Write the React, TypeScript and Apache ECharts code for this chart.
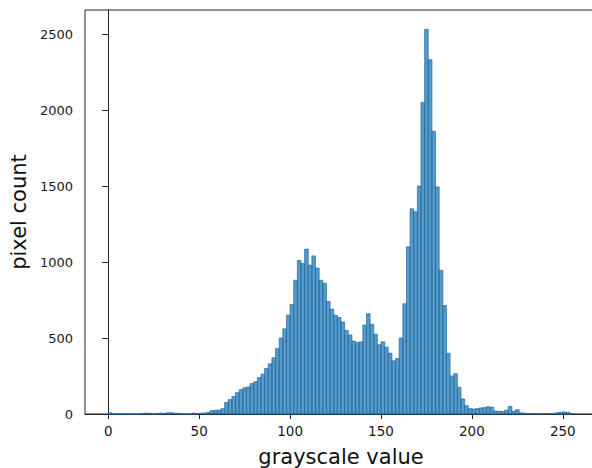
import React, { useEffect, useRef } from "react";
import * as echarts from "echarts";

const BIN_WIDTH = 2;
const binCounts: number[] = [
  8, 0, 0, 0, 0, 0, 0, 0, 0, 4,
  6, 4, 0, 3, 6, 5, 8, 8, 5, 3,
  0, 0, 0, 6, 3, 5, 6, 10, 22, 24,
  26, 35, 75, 95, 115, 140, 160, 172, 178, 200,
  212, 240, 262, 300, 330, 370, 430, 500, 560, 650,
  720, 880, 1010, 990, 1085, 980, 1040, 960, 880, 860,
  740, 690, 650, 635, 605, 550, 520, 480, 470, 475,
  585, 660, 590, 525, 455, 475, 440, 400, 350, 365,
  500, 725, 1100, 1350, 1330, 1500, 2050, 2531, 2330, 1860,
  1494, 945, 714, 400, 250, 265, 175, 99, 55, 35,
  33, 35, 40, 42, 48, 45, 20, 18, 17, 25,
  50, 18, 28, 8, 5, 4, 3, 3, 2, 2,
  3, 3, 4, 8, 12, 13, 10, 3,
];
const xTicks = [0, 50, 100, 150, 200, 250];
const yTicks = [0, 500, 1000, 1500, 2000, 2500];
const X_MIN = -12.8;
const X_MAX = 268.8;
const Y_MAX = 2658;

export default function App() {
  const ref = useRef<HTMLDivElement>(null);
  useEffect(() => {
    document.body.style.margin = "0";
    if (!ref.current) return;
    const chart = echarts.init(ref.current, null, { renderer: "svg" });
    const data = binCounts.map((c, i) => [i * BIN_WIDTH, (i + 1) * BIN_WIDTH, c]);
    const font = "DejaVu Sans";
    chart.setOption({
      animation: false,
      backgroundColor: "#ffffff",
      grid: {
        left: 85,
        top: 10,
        width: 512,
        height: 404,
        outerBoundsMode: "none",
        containLabel: false,
        show: true,
        borderColor: "#222",
        borderWidth: 1,
        backgroundColor: "transparent",
      },
      xAxis: {
        type: "value",
        min: X_MIN,
        max: X_MAX,
        name: "grayscale value",
        nameLocation: "middle",
        nameGap: 32,
        nameTextStyle: { fontFamily: font, fontSize: 21, color: "#111" },
        axisLine: { show: true, onZero: false, lineStyle: { color: "#222", width: 1 } },
        axisTick: { show: true, customValues: xTicks, length: 5, lineStyle: { color: "#222" } },
        axisLabel: {
          customValues: xTicks,
          fontFamily: font,
          fontSize: 13.5,
          color: "#1a1a1a",
          margin: 10,
          formatter: (v: number) => String(v),
        },
        splitLine: { show: false },
      },
      yAxis: {
        type: "value",
        min: 0,
        max: Y_MAX,
        name: "pixel count",
        nameLocation: "middle",
        nameGap: 54,
        nameTextStyle: { fontFamily: font, fontSize: 21, color: "#111" },
        axisLine: { show: true, lineStyle: { color: "#222", width: 1 } },
        axisTick: { show: true, customValues: yTicks, length: 6, lineStyle: { color: "#222" } },
        axisLabel: {
          customValues: yTicks,
          fontFamily: font,
          fontSize: 13,
          color: "#1a1a1a",
          margin: 12,
          formatter: (v: number) => String(v),
        },
        splitLine: { show: false },
      },
      series: [
        {
          type: "custom",
          data,
          encode: { x: [0, 1], y: 2 },
          renderItem: (params: any, api: any) => {
            const x0 = api.value(0);
            const x1 = api.value(1);
            const y = api.value(2);
            const p0 = api.coord([x0, y]);
            const p1 = api.coord([x1, 0]);
            return {
              type: "rect",
              shape: { x: p0[0], y: p0[1], width: p1[0] - p0[0], height: p1[1] - p0[1] },
              style: { fill: "rgba(31,119,180,0.75)", stroke: "#1f6aa3", lineWidth: 0.7 },
            };
          },
        },
      ],
    });
    return () => chart.dispose();
  }, []);
  return <div ref={ref} style={{ width: 592, height: 468 }} />;
}
